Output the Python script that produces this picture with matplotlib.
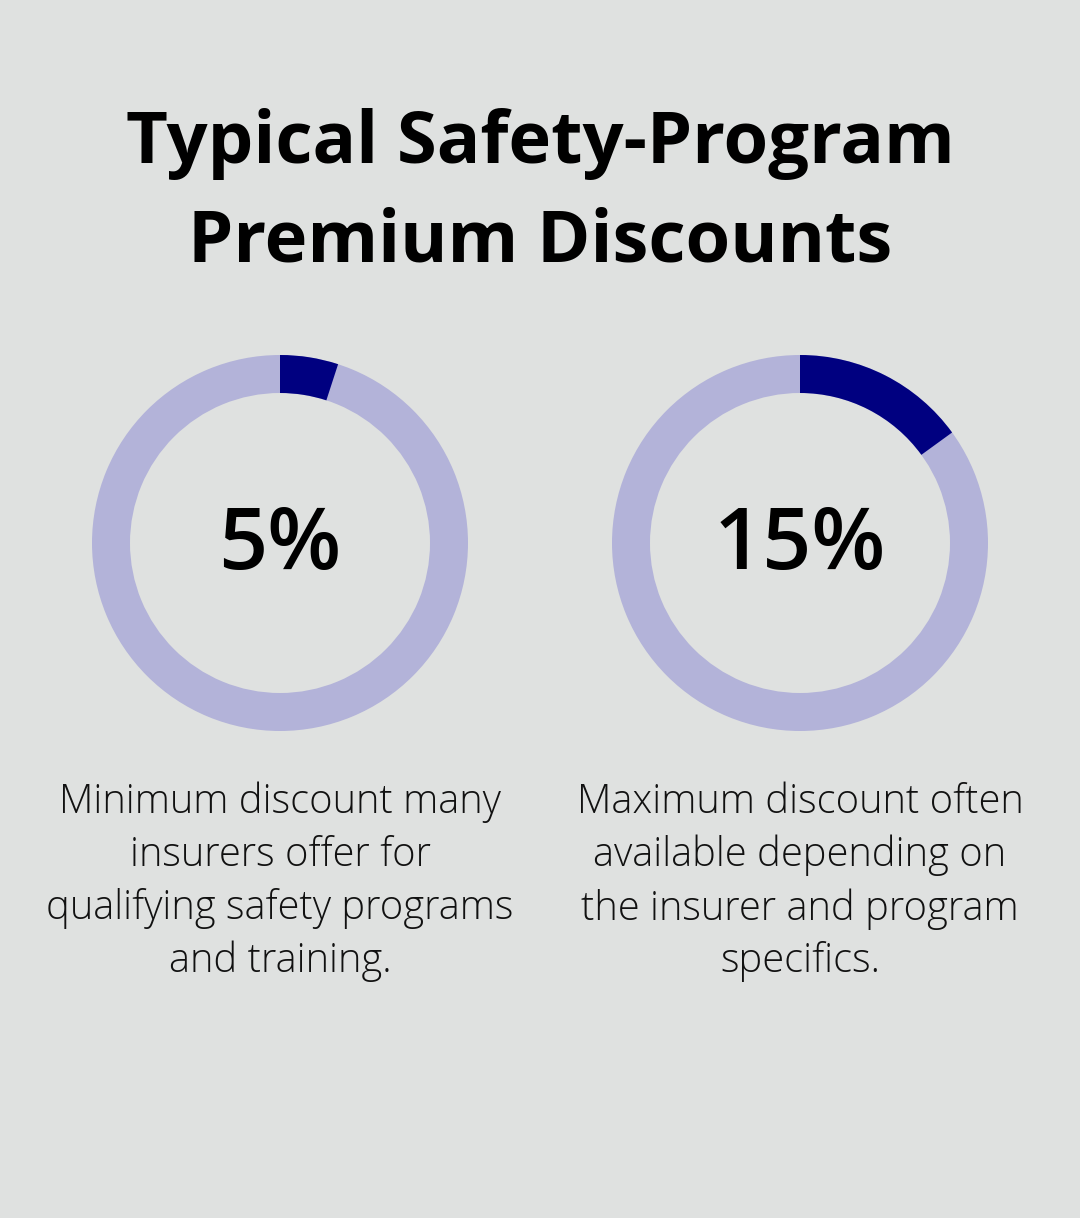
import matplotlib
matplotlib.use("Agg")
from matplotlib import pyplot as plt
from matplotlib.patches import Wedge

title_lines = ["Typical Safety-Program", "Premium Discounts"]
values = [5, 15]
labels = ["5%", "15%"]
descriptions = [
    "Minimum discount many\ninsurers offer for\nqualifying safety programs\nand training.",
    "Maximum discount often\navailable depending on\nthe insurer and program\nspecifics.",
]

BG = "#dfe1e0"
DARK = "#000080"
LIGHT = "#b3b3d9"

fig = plt.figure(figsize=(10.8, 12.18), dpi=100, facecolor=BG)
ax = fig.add_axes([0, 0, 1, 1])
ax.set_xlim(0, 1080)
ax.set_ylim(1218, 0)
ax.set_aspect("equal")
ax.axis("off")
ax.set_facecolor(BG)

ax.text(540, 144, title_lines[0], ha="center", va="center", fontsize=52,
        fontweight="bold", family="Open Sans", color="black")
ax.text(540, 242, title_lines[1], ha="center", va="center", fontsize=52,
        fontweight="bold", family="Open Sans", color="black")

centers = [280, 800]
cy = 543
r_out, ring = 188, 38
for cx, v, lab, desc in zip(centers, values, labels, descriptions):
    ax.add_patch(Wedge((cx, cy), r_out, 0, 360, width=ring, color=LIGHT, lw=0))
    # y axis is inverted, so angles run clockwise on screen
    ax.add_patch(Wedge((cx, cy), r_out, 270, 270 + 360 * v / 100, width=ring,
                       color=DARK, lw=0))
    ax.text(cx, cy + 4, lab, ha="center", va="center", fontsize=62,
            family="Open Sans", fontweight="semibold", color="black")
    ax.text(cx, 882, desc, ha="center", va="center", fontsize=28.7,
            family="Open Sans", fontweight="light", color="#111111",
            linespacing=1.38)

fig.savefig("out.png", dpi=100, facecolor=BG)
